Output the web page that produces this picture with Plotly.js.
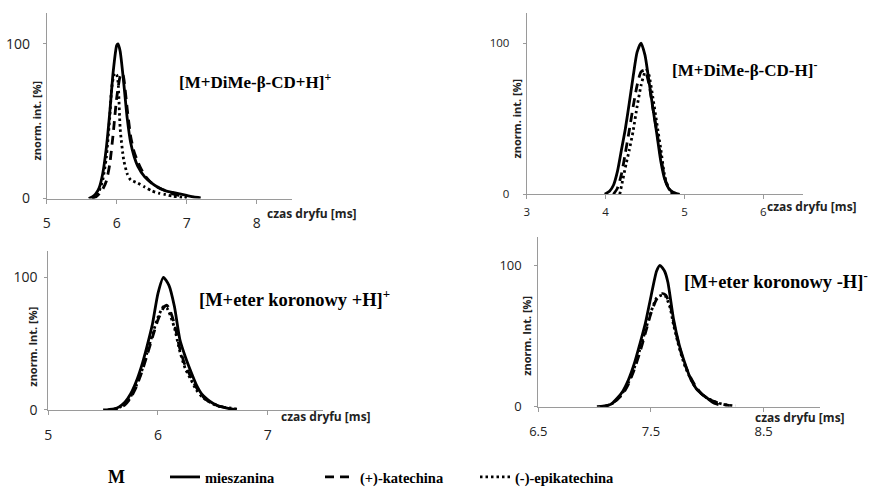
<!DOCTYPE html>
<html>
<head>
<meta charset="utf-8">
<script src="https://cdn.plot.ly/plotly-3.0.1.min.js"></script>
<style>html,body{margin:0;padding:0;background:#fff;}#chart{width:870px;height:493px;}</style>
</head>
<body>
<div id="chart"></div>
<script>
// ---- Data ----
const seriesNames = ['mieszanina', '(+)-katechina', '(-)-epikatechina'];
const panelTitles = ['[M+DiMe-β-CD+H]<sup>+</sup>', '[M+DiMe-β-CD-H]<sup>-</sup>', '[M+eter koronowy +H]<sup>+</sup>', '[M+eter koronowy -H]<sup>-</sup>'];
const yTitles = ['znorm. int. [%]', 'znorm. int. [%]', 'znorm. Int. [%]', 'znorm. Int. [%]'];
const xTitle = 'czas dryfu [ms]';
const xTicks1 = [5, 6, 7, 8];
const xTicks2 = [3, 4, 5, 6];
const xTicks3 = [5, 6, 7];
const xTicks4 = [6.5, 7.5, 8.5];
const yTicks = [0, 100];

// Panel 1: [M+DiMe-β-CD+H]+
const mixX1 = [5.6,5.65,5.7,5.75,5.8,5.85,5.9,5.95,6.0,6.02,6.05,6.1,6.15,6.2,6.25,6.3,6.4,6.5,6.6,6.7,6.8,6.9,7.0,7.1,7.2];
const mixY1 = [0,1,3,7,16,32,55,82,99,100,95,75,52,36,27,21,14,10,7,5,4,3,2,1,0.5];
const catX1 = [5.65,5.7,5.75,5.8,5.85,5.9,5.95,6.0,6.05,6.08,6.1,6.15,6.2,6.25,6.3,6.35,6.4,6.5,6.6,6.7,6.8,6.9,7.0];
const catY1 = [0,1,3,6,11,22,42,65,79,81,78,58,40,30,24,19,15,10,7,5,3,2,1];
const epiX1 = [5.65,5.7,5.75,5.8,5.85,5.9,5.93,5.97,6.0,6.02,6.05,6.1,6.15,6.2,6.3,6.4,6.5,6.6,6.7,6.8,6.9,7.0];
const epiY1 = [0,2,5,12,26,52,72,81,80,75,45,25,16,12,10,7.5,5,3.5,2.5,1.5,1,0.5];

// Panel 2: [M+DiMe-β-CD-H]-
const mixX2 = [3.99,4.05,4.1,4.15,4.2,4.25,4.3,4.35,4.4,4.45,4.5,4.55,4.6,4.65,4.7,4.75,4.8,4.85,4.9,4.94];
const mixY2 = [0,2,6,15,29,43,60,78,94,100,92,75,57,40,22,10,4,1.5,0.5,0];
const catX2 = [4.1,4.15,4.2,4.25,4.3,4.35,4.4,4.45,4.5,4.55,4.6,4.65,4.7,4.75,4.8,4.85,4.9];
const catY2 = [0,4,13,27,42,58,72,81,82,73,57,42,25,11,4,1,0];
const epiX2 = [4.18,4.22,4.26,4.3,4.35,4.4,4.45,4.5,4.52,4.55,4.6,4.65,4.7,4.75,4.8,4.85];
const epiY2 = [0,10,20,29,42,58,72,81,82,79,64,47,30,12,4,0];

// Panel 3: [M+eter koronowy +H]+
const mixX3 = [5.5,5.55,5.6,5.65,5.7,5.75,5.8,5.85,5.9,5.95,6.0,6.05,6.1,6.15,6.2,6.25,6.3,6.35,6.4,6.45,6.5,6.55,6.6,6.65];
const mixY3 = [0,0.3,0.8,2.5,6,12,21,33,48,65,88,100,94,78,53,40,29,19,12,8,5,3,2,1];
const catX3 = [5.55,5.6,5.65,5.7,5.75,5.8,5.85,5.9,5.95,6.0,6.05,6.08,6.1,6.15,6.2,6.25,6.3,6.35,6.4,6.45,6.5,6.55,6.6,6.65,6.7];
const catY3 = [0,0.5,1.5,4,9,17,28,41,55,68,77,79,77,65,46,33,25,17,11,7,5,3,2,1,0.5];
const epiX3 = [5.55,5.6,5.65,5.7,5.75,5.8,5.85,5.9,5.95,6.0,6.05,6.08,6.1,6.15,6.2,6.25,6.3,6.35,6.4,6.45,6.5,6.55,6.6,6.65,6.72];
const epiY3 = [0,0.5,2,5,10,18,29,43,57,70,78,77,74,62,44,31,23,15,10,7,4.5,3,2,1.5,0.7];

// Panel 4: [M+eter koronowy -H]-
const mixX4 = [7.02,7.1,7.15,7.2,7.25,7.3,7.35,7.4,7.45,7.5,7.55,7.58,7.62,7.65,7.7,7.75,7.8,7.85,7.9,7.95,8.0,8.05,8.1];
const mixY4 = [0,0.5,2,6,11,19,30,44,59,78,96,100,96,88,62,44,31,20,13,9,6,3,1.5];
const catX4 = [7.05,7.1,7.15,7.2,7.25,7.3,7.35,7.4,7.45,7.5,7.55,7.6,7.63,7.67,7.7,7.75,7.8,7.85,7.9,7.95,8.0,8.05,8.1,8.15,8.2];
const catY4 = [0,0.5,2,5,9,16,26,38,52,66,76,80,79,72,60,43,30,21,14,9,6,4,2.5,1.5,0.8];
const epiX4 = [7.05,7.1,7.15,7.2,7.25,7.3,7.35,7.4,7.45,7.5,7.55,7.6,7.63,7.67,7.7,7.75,7.8,7.85,7.9,7.95,8.0,8.05,8.1,8.15,8.2,8.25];
const epiY4 = [0,0.5,2,5,10,17,27,40,54,67,77,79,78,70,58,42,29,20,13,9,6,4,2.5,1.5,1,0.5];

// ---- Styling ----
const W = 870, H = 493;
const lineStyles = [
  {color: '#000', width: 2.8, dash: 'solid'},
  {color: '#000', width: 2.8, dash: '9px,6px'},
  {color: '#000', width: 2.8, dash: '2.5px,3px'}
];
const tickFont = 'Open Sans, Noto Sans, sans-serif';
const titleFont = 'Liberation Serif, DejaVu Serif, serif';

const panels = [
  {xs: [mixX1, catX1, epiX1], ys: [mixY1, catY1, epiY1], ticks: xTicks1, xr: [5, 8.5], px: [46.7, 291.7], py: [201, 13], fs: 14, yStand: 10, xStand: 8, ts: 17,
   title: {x: 177, y: 82}, xt: {x: 265, y: 216}, yt: {x: 37, y: 122}},
  {xs: [mixX2, catX2, epiX2], ys: [mixY2, catY2, epiY2], ticks: xTicks2, xr: [3, 6.5], px: [526.7, 802.7], py: [196.7, 13], fs: 11.5, yStand: 11, xStand: 3, ts: 17,
   title: {x: 670, y: 70}, xt: {x: 765, y: 209}, yt: {x: 517, y: 120}},
  {xs: [mixX3, catX3, epiX3], ys: [mixY3, catY3, epiY3], ticks: xTicks3, xr: [5, 7.5], px: [48.3, 322.5], py: [415, 254], fs: 14, yStand: 4, xStand: 8, ts: 18.5,
   title: {x: 197, y: 302}, xt: {x: 279, y: 422}, yt: {x: 33, y: 351}},
  {xs: [mixX4, catX4, epiX4], ys: [mixY4, catY4, epiY4], ticks: xTicks4, xr: [6.5, 9.0], px: [538.3, 820], py: [411.7, 240], fs: 13, yStand: 10, xStand: 9, ts: 18.5,
   title: {x: 682, y: 283}, xt: {x: 753, y: 423}, yt: {x: 527, y: 340}}
];

const data = [];
const layout = {
  width: W, height: H,
  margin: {l: 0, r: 0, t: 0, b: 0},
  paper_bgcolor: '#fff', plot_bgcolor: 'rgba(0,0,0,0)',
  showlegend: true,
  legend: {
    orientation: 'h', x: 165 / W, xanchor: 'left', y: 1 - 483 / H, yanchor: 'middle',
    font: {family: titleFont, size: 14.5, color: '#000', weight: 'bold'},
    entrywidth: 110, entrywidthmode: 'pixels', bgcolor: 'rgba(0,0,0,0)', traceorder: 'normal'
  },
  annotations: [],
  font: {family: tickFont, color: '#222'}
};

panels.forEach((p, i) => {
  const n = i + 1;
  const xa = n === 1 ? 'x' : 'x' + n;
  const ya = n === 1 ? 'y' : 'y' + n;
  for (let s = 0; s < 3; s++) {
    data.push({
      x: p.xs[s], y: p.ys[s], xaxis: xa, yaxis: ya, type: 'scatter', mode: 'lines',
      name: seriesNames[s], legendgroup: seriesNames[s], showlegend: i === 0,
      line: Object.assign({shape: 'spline', smoothing: 0.6}, lineStyles[s]),
      hoverinfo: 'skip'
    });
  }
  layout['xaxis' + (n === 1 ? '' : n)] = {
    domain: [p.px[0] / W, p.px[1] / W], range: p.xr, anchor: ya,
    tickmode: 'array', tickvals: p.ticks, showline: true, linecolor: '#9a9a9a', linewidth: 1,
    ticks: 'outside', ticklen: 4, tickcolor: '#9a9a9a', showgrid: false, zeroline: false,
    tickfont: {family: tickFont, size: p.fs, color: '#222'}, ticklabelstandoff: p.xStand, fixedrange: true
  };
  layout['yaxis' + (n === 1 ? '' : n)] = {
    domain: [1 - p.py[0] / H, 1 - p.py[1] / H], range: [0, 120], anchor: xa,
    tickmode: 'array', tickvals: yTicks, showline: true, linecolor: '#9a9a9a', linewidth: 1,
    ticks: 'outside', ticklen: 3, tickcolor: '#9a9a9a', showgrid: false, zeroline: false,
    tickfont: {family: tickFont, size: p.fs, color: '#222'}, ticklabelstandoff: p.yStand, fixedrange: true
  };
  layout.annotations.push({
    xref: 'paper', yref: 'paper', x: p.title.x / W, y: 1 - p.title.y / H, xanchor: 'left', yanchor: 'middle',
    text: '<b>' + panelTitles[i] + '</b>', showarrow: false, font: {family: titleFont, size: p.ts, color: '#000'}
  });
  layout.annotations.push({
    xref: 'paper', yref: 'paper', x: p.xt.x / W, y: 1 - p.xt.y / H, xanchor: 'left', yanchor: 'middle',
    text: '<b>' + xTitle + '</b>', showarrow: false, font: {family: tickFont, size: 12, color: '#222'}
  });
  layout.annotations.push({
    xref: 'paper', yref: 'paper', x: p.yt.x / W, y: 1 - p.yt.y / H, xanchor: 'center', yanchor: 'middle',
    text: '<b>' + yTitles[i] + '</b>', textangle: -90, showarrow: false, font: {family: tickFont, size: 11, color: '#222'}
  });
});

layout.annotations.push({
  xref: 'paper', yref: 'paper', x: 106 / W, y: 1 - 483 / H, xanchor: 'left', yanchor: 'middle',
  text: '<b>M</b>', showarrow: false, font: {family: titleFont, size: 18, color: '#000'}
});

Plotly.newPlot('chart', data, layout, {staticPlot: true, displayModeBar: false});
</script>
</body>
</html>
